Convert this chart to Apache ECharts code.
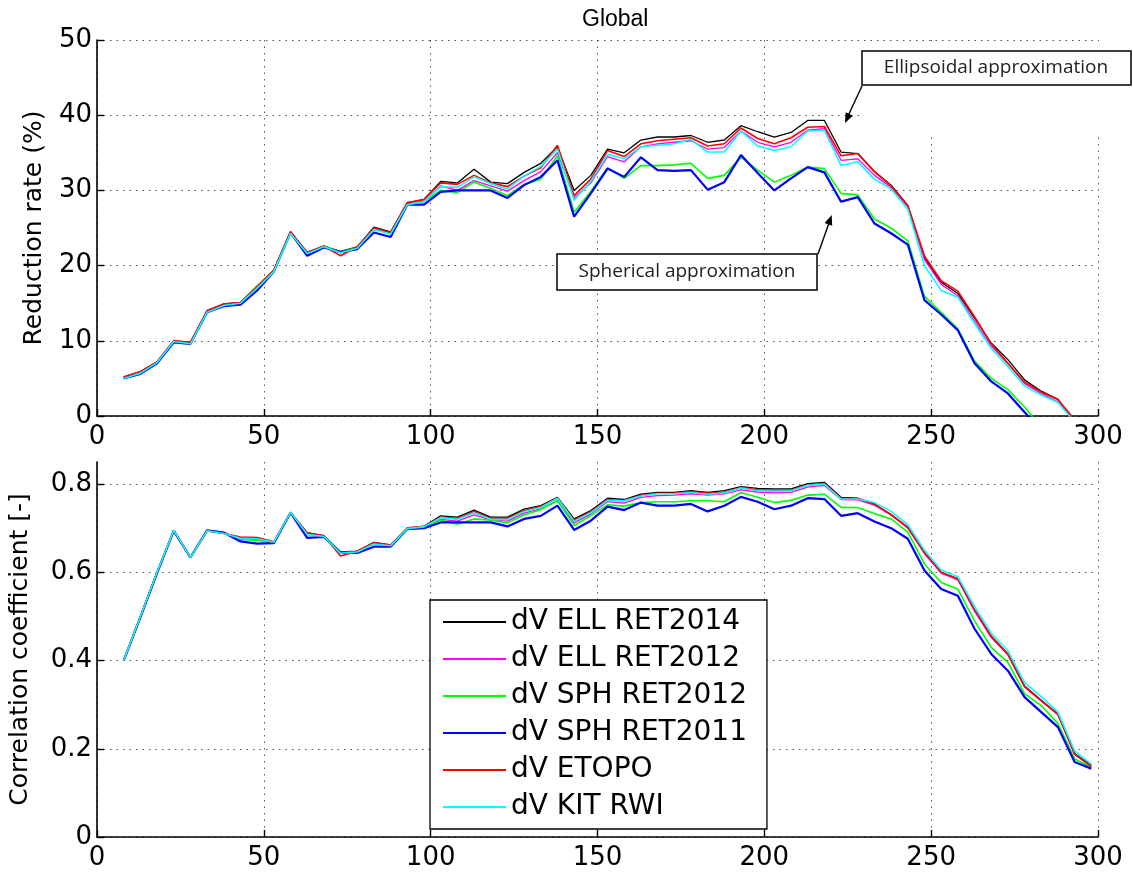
<!DOCTYPE html>
<html>
<head>
<meta charset="utf-8">
<script src="https://cdn.jsdelivr.net/npm/echarts@6/dist/echarts.min.js"></script>
<style>
  html, body { margin: 0; padding: 0; background: #fff; }
  #chart { width: 1133px; height: 879px; }
</style>
</head>
<body>
<div id="chart"></div>
<script>
// x positions of the samples
var xs = [8, 13, 18, 23, 28, 33, 38, 43, 48, 53,
          58, 63, 68, 73, 78, 83, 88, 93, 98, 103,
          108, 113, 118, 123, 128, 133, 138, 143, 148, 153,
          158, 163, 168, 173, 178, 183, 188, 193, 198, 203,
          208, 213, 218, 223, 228, 233, 238, 243, 248, 253,
          258, 263, 268, 273, 278, 283, 288, 293, 298];

var names = ['dV ELL RET2014', 'dV ELL RET2012', 'dV SPH RET2012', 'dV SPH RET2011', 'dV ETOPO', 'dV KIT RWI'];
var colors = ['#000000', '#ff00ff', '#00ff00', '#0000ff', '#ff0000', '#00ffff'];

// reduction rate (%)
var redEll2014 = [5.2, 5.9, 7.2, 10.0, 9.8, 14.0, 14.9, 15.1, 17.2, 19.4,
  24.5, 21.8, 22.6, 21.9, 22.5, 25.1, 24.5, 28.3, 28.8, 31.2,
  31.0, 32.8, 31.1, 30.9, 32.4, 33.6, 35.8, 30.0, 32.0, 35.5,
  35.0, 36.7, 37.1, 37.1, 37.3, 36.4, 36.7, 38.6, 37.8, 37.1,
  37.7, 39.3, 39.3, 35.1, 34.9, 32.5, 30.7, 28.0, 21.0, 17.8,
  16.3, 13.0, 9.7, 7.5, 4.8, 3.3, 2.2, -0.9, -3.0];
var redEll2012 = [5.1, 5.8, 7.1, 9.9, 9.7, 13.9, 14.8, 15.0, 17.1, 19.3,
  24.4, 21.7, 22.5, 21.7, 22.4, 24.9, 24.3, 28.2, 28.6, 30.6,
  30.0, 31.3, 30.6, 29.9, 31.3, 32.5, 35.0, 29.0, 31.0, 34.5,
  33.8, 35.8, 36.2, 36.4, 36.6, 35.5, 35.7, 37.9, 36.4, 35.8,
  36.4, 38.0, 38.2, 34.0, 34.2, 32.0, 30.4, 27.8, 20.8, 17.5,
  16.0, 12.6, 9.3, 7.0, 4.3, 3.0, 1.9, -0.7, -3.0];
var redSph2012 = [5.0, 5.8, 7.1, 9.9, 9.7, 13.9, 14.8, 15.1, 17.3, 19.3,
  24.4, 21.6, 22.6, 21.8, 22.4, 24.8, 24.3, 28.2, 28.5, 30.0,
  29.7, 31.1, 30.3, 29.3, 30.8, 31.5, 34.6, 27.1, 29.9, 33.0,
  31.6, 33.3, 33.3, 33.4, 33.6, 31.6, 32.0, 34.4, 32.7, 31.1,
  32.0, 33.1, 32.9, 29.6, 29.4, 26.2, 25.0, 23.3, 15.9, 13.8,
  11.6, 7.3, 5.0, 3.5, 1.2, -1.5, -4.0, -6.0, -8.0];
var redSph2011 = [5.0, 5.6, 7.0, 9.8, 9.6, 13.8, 14.6, 14.8, 16.7, 19.2,
  24.4, 21.3, 22.4, 21.8, 22.2, 24.4, 23.8, 28.1, 28.1, 29.8,
  30.0, 30.0, 30.0, 29.0, 30.7, 31.8, 34.0, 26.5, 29.6, 32.9,
  31.8, 34.4, 32.7, 32.6, 32.7, 30.1, 31.1, 34.7, 32.3, 30.0,
  31.6, 33.1, 32.4, 28.5, 29.1, 25.6, 24.3, 22.8, 15.4, 13.5,
  11.4, 7.0, 4.6, 3.0, 0.5, -1.8, -4.0, -6.0, -8.0];
var redEtopo = [5.2, 5.9, 7.2, 10.0, 9.8, 14.0, 14.9, 15.1, 17.2, 19.4,
  24.5, 21.7, 22.6, 21.3, 22.5, 25.0, 24.4, 28.4, 28.8, 31.0,
  30.8, 32.0, 31.0, 30.5, 31.9, 33.0, 36.0, 29.3, 31.5, 35.3,
  34.5, 36.2, 36.6, 36.8, 37.0, 35.9, 36.2, 38.3, 36.9, 36.2,
  37.0, 38.4, 38.5, 34.6, 34.9, 32.5, 30.6, 28.0, 21.3, 18.0,
  16.6, 13.2, 9.6, 7.0, 4.5, 3.2, 2.2, -0.5, -3.0];
var redKit = [5.0, 5.7, 7.1, 9.9, 9.6, 13.8, 14.7, 15.0, 17.0, 19.2,
  24.3, 21.6, 22.5, 21.7, 22.3, 24.8, 24.2, 28.1, 28.5, 30.5,
  30.4, 31.8, 30.9, 30.2, 31.9, 33.2, 35.5, 28.7, 31.2, 34.8,
  34.2, 35.8, 36.0, 36.2, 36.8, 35.1, 35.1, 37.9, 35.9, 35.3,
  35.8, 37.9, 38.0, 33.3, 33.8, 31.5, 30.2, 27.5, 20.0, 16.7,
  15.8, 12.3, 9.0, 6.6, 4.0, 2.8, 1.8, -0.8, -3.0];

// correlation coefficient
var corEll2014 = [0.400, 0.500, 0.600, 0.695, 0.634, 0.694, 0.688, 0.676, 0.675, 0.668,
  0.736, 0.690, 0.683, 0.646, 0.648, 0.668, 0.662, 0.700, 0.704, 0.728,
  0.725, 0.741, 0.725, 0.725, 0.743, 0.751, 0.770, 0.721, 0.740, 0.768,
  0.765, 0.777, 0.781, 0.781, 0.785, 0.781, 0.785, 0.794, 0.790, 0.789,
  0.789, 0.801, 0.804, 0.770, 0.768, 0.755, 0.730, 0.702, 0.645, 0.600,
  0.585, 0.515, 0.455, 0.415, 0.342, 0.310, 0.279, 0.189, 0.162];
var corEll2012 = [0.400, 0.500, 0.600, 0.695, 0.634, 0.694, 0.688, 0.678, 0.677, 0.668,
  0.736, 0.688, 0.682, 0.644, 0.647, 0.666, 0.661, 0.699, 0.703, 0.720,
  0.716, 0.730, 0.719, 0.716, 0.734, 0.744, 0.762, 0.712, 0.732, 0.760,
  0.757, 0.770, 0.774, 0.775, 0.778, 0.775, 0.778, 0.787, 0.782, 0.780,
  0.781, 0.793, 0.797, 0.765, 0.764, 0.752, 0.730, 0.700, 0.642, 0.598,
  0.583, 0.512, 0.452, 0.413, 0.340, 0.308, 0.277, 0.187, 0.160];
var corSph2012 = [0.400, 0.500, 0.600, 0.695, 0.634, 0.694, 0.688, 0.675, 0.672, 0.667,
  0.736, 0.686, 0.682, 0.645, 0.646, 0.664, 0.660, 0.699, 0.702, 0.718,
  0.709, 0.721, 0.718, 0.712, 0.730, 0.742, 0.762, 0.706, 0.728, 0.753,
  0.750, 0.758, 0.760, 0.760, 0.762, 0.762, 0.760, 0.781, 0.770, 0.758,
  0.763, 0.775, 0.777, 0.747, 0.747, 0.733, 0.721, 0.691, 0.619, 0.577,
  0.562, 0.490, 0.430, 0.396, 0.325, 0.298, 0.257, 0.177, 0.158];
var corSph2011 = [0.400, 0.498, 0.598, 0.694, 0.634, 0.695, 0.690, 0.670, 0.665, 0.666,
  0.735, 0.678, 0.680, 0.644, 0.644, 0.658, 0.658, 0.698, 0.700, 0.713,
  0.713, 0.713, 0.713, 0.704, 0.721, 0.728, 0.751, 0.696, 0.717, 0.749,
  0.741, 0.758, 0.751, 0.751, 0.755, 0.738, 0.751, 0.771, 0.760, 0.743,
  0.751, 0.768, 0.766, 0.728, 0.734, 0.715, 0.700, 0.676, 0.604, 0.562,
  0.547, 0.472, 0.415, 0.377, 0.317, 0.283, 0.249, 0.170, 0.155];
var corEtopo = [0.400, 0.500, 0.600, 0.695, 0.634, 0.694, 0.688, 0.680, 0.679, 0.669,
  0.736, 0.689, 0.683, 0.637, 0.648, 0.667, 0.662, 0.701, 0.704, 0.725,
  0.722, 0.738, 0.722, 0.722, 0.740, 0.749, 0.768, 0.718, 0.737, 0.765,
  0.762, 0.774, 0.779, 0.779, 0.783, 0.779, 0.782, 0.792, 0.787, 0.786,
  0.786, 0.798, 0.801, 0.768, 0.767, 0.754, 0.731, 0.702, 0.645, 0.600,
  0.585, 0.516, 0.455, 0.414, 0.341, 0.309, 0.278, 0.188, 0.160];
var corKit = [0.400, 0.500, 0.600, 0.695, 0.634, 0.694, 0.688, 0.677, 0.676, 0.668,
  0.736, 0.686, 0.681, 0.643, 0.646, 0.664, 0.660, 0.699, 0.703, 0.724,
  0.720, 0.735, 0.720, 0.720, 0.738, 0.747, 0.768, 0.716, 0.735, 0.763,
  0.762, 0.773, 0.778, 0.778, 0.781, 0.777, 0.780, 0.791, 0.785, 0.784,
  0.785, 0.797, 0.800, 0.766, 0.766, 0.758, 0.738, 0.708, 0.650, 0.605,
  0.590, 0.522, 0.462, 0.422, 0.350, 0.318, 0.283, 0.195, 0.165];

var redRates = [redEll2014, redEll2012, redSph2012, redSph2011, redEtopo, redKit];
var corrs = [corEll2014, corEll2012, corSph2012, corSph2011, corEtopo, corKit];
var lineWidths = [1.3, 1.3, 1.6, 2.2, 1.6, 1.6];

function pairs(ys) {
    return xs.map(function (x, i) { return [x, ys[i]]; });
}

var tickFont = { fontFamily: 'DejaVu Sans', fontSize: 26, color: '#000' };
var dotted = { color: '#555', width: 1, type: [1.5, 5] };

function xAxisFor(gridIndex) {
    return {
        type: 'value', gridIndex: gridIndex, min: 0, max: 300, interval: 50,
        axisLine: { show: true, onZero: false, lineStyle: { color: '#000', width: 1.6 } },
        axisTick: { show: true, inside: true, length: 7, lineStyle: { color: '#000', width: 1.4 } },
        axisLabel: Object.assign({ margin: 8 }, tickFont),
        splitLine: { show: true, lineStyle: dotted }
    };
}

var series = [];
names.forEach(function (name, k) {
    series.push({
        name: name, type: 'line', xAxisIndex: 0, yAxisIndex: 0,
        data: pairs(redRates[k]), symbol: 'none', clip: true,
        lineStyle: { color: colors[k], width: lineWidths[k] },
        itemStyle: { color: colors[k] }, z: 2 + k, animation: false
    });
});
names.forEach(function (name, k) {
    series.push({
        name: name, type: 'line', xAxisIndex: 1, yAxisIndex: 1,
        data: pairs(corrs[k]), symbol: 'none', clip: true,
        lineStyle: { color: colors[k], width: lineWidths[k] },
        itemStyle: { color: colors[k] }, z: 2 + k, animation: false
    });
});

var chart = echarts.init(document.getElementById('chart'), null, { renderer: 'canvas' });
var option = {
    backgroundColor: '#fff',
    animation: false,
    title: {
        text: 'Global', left: 577, top: 3,
        textStyle: { fontFamily: 'Liberation Sans', fontSize: 23, fontWeight: 'normal', color: '#000' }
    },
    grid: [
        { left: 97, right: 35, top: 40, height: 376, outerBoundsMode: 'none', containLabel: false },
        { left: 97, right: 35, top: 462, height: 375, outerBoundsMode: 'none', containLabel: false }
    ],
    xAxis: [xAxisFor(0), xAxisFor(1)],
    yAxis: [
        {
            type: 'value', gridIndex: 0, min: 0, max: 50, interval: 10,
            name: 'Reduction rate (%)', nameLocation: 'middle', nameGap: 50, nameRotate: 90,
            nameTextStyle: { fontFamily: 'DejaVu Sans', fontSize: 25, color: '#000' },
            axisLine: { show: true, lineStyle: { color: '#000', width: 1.6 } },
            axisTick: { show: true, inside: true, length: 7, lineStyle: { color: '#000', width: 1.4 } },
            axisLabel: Object.assign({ margin: 5 }, tickFont),
            splitLine: { show: true, lineStyle: dotted }
        },
        {
            type: 'value', gridIndex: 1, min: 0, max: 0.85, interval: 0.2,
            name: 'Correlation coefficient [-]', nameLocation: 'middle', nameGap: 64, nameRotate: 90,
            nameTextStyle: { fontFamily: 'DejaVu Sans', fontSize: 25, color: '#000' },
            axisLine: { show: true, lineStyle: { color: '#000', width: 1.6 } },
            axisTick: { show: true, inside: true, length: 7, lineStyle: { color: '#000', width: 1.4 } },
            axisLabel: Object.assign({
                margin: 5, showMaxLabel: false,
                formatter: function (v) { return v === 0 ? '0' : v.toFixed(1); }
            }, tickFont),
            splitLine: { show: true, showMaxLine: false, lineStyle: dotted }
        }
    ],
    legend: {
        data: names, orient: 'vertical', left: 430, top: 600,
        padding: [7, 20, 7, 13], itemWidth: 63, itemHeight: 2, itemGap: 7, icon: 'rect',
        textStyle: { fontFamily: 'DejaVu Sans', fontSize: 28, lineHeight: 30, color: '#000' },
        backgroundColor: '#fff', borderColor: '#000', borderWidth: 1.3, borderRadius: 0,
        selectedMode: false
    },
    graphic: [
        { type: 'rect', z: 1, shape: { x: 862, y: 41, width: 238, height: 95 }, style: { fill: '#fff' } },
        {
            type: 'rect', z: 10, shape: { x: 862, y: 51, width: 269, height: 34 },
            style: { fill: '#fff', stroke: '#000', lineWidth: 1.5 }
        },
        {
            type: 'text', z: 11, x: 996, y: 68,
            style: { text: 'Ellipsoidal approximation', fill: '#222', font: '19px "Open Sans"', textAlign: 'center', textVerticalAlign: 'middle' }
        },
        { type: 'line', z: 10, shape: { x1: 862, y1: 86, x2: 848, y2: 116 }, style: { stroke: '#000', lineWidth: 1.4 } },
        { type: 'polygon', z: 10, shape: { points: [[845, 123], [852.9, 115.7], [845.7, 112.3]] }, style: { fill: '#000' } },
        {
            type: 'rect', z: 10, shape: { x: 557, y: 254, width: 260, height: 36 },
            style: { fill: '#fff', stroke: '#000', lineWidth: 1.5 }
        },
        {
            type: 'text', z: 11, x: 687, y: 272,
            style: { text: 'Spherical approximation', fill: '#222', font: '19px "Open Sans"', textAlign: 'center', textVerticalAlign: 'middle' }
        },
        { type: 'line', z: 10, shape: { x1: 818, y1: 254, x2: 829, y2: 223 }, style: { stroke: '#000', lineWidth: 1.4 } },
        { type: 'polygon', z: 10, shape: { points: [[831.7, 215], [832.2, 225.7], [824.6, 223.1]] }, style: { fill: '#000' } }
    ],
    series: series
};
chart.setOption(option);
</script>
</body>
</html>
